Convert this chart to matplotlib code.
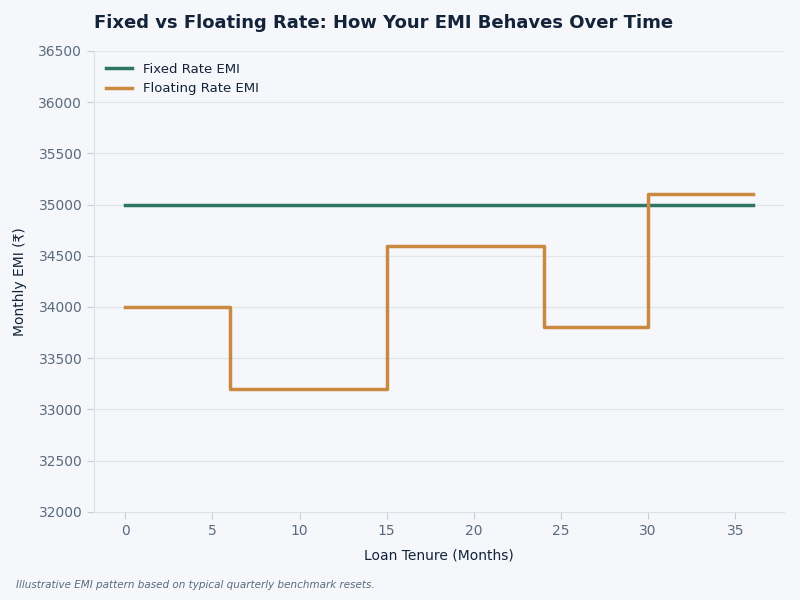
import numpy as np
import matplotlib.pyplot as plt

plt.rcParams['font.family'] = ['DejaVu Sans', 'Noto Sans']

# monthly EMI values
fixed_months = [0, 36]
fixed_emi = [35000, 35000]

float_months = [0, 6, 15, 24, 30, 36]
float_emi = [34000, 33200, 34600, 33800, 35100, 35100]

bg = '#f5f7fa'
fixed_color = '#2d7663'
float_color = '#c98940'
dark = '#13233a'
grey = '#5a6a7e'

fig = plt.figure(figsize=(8, 6), dpi=100, facecolor=bg)
ax = fig.add_axes([0.1175, 0.147, 0.8625, 0.768])
ax.set_facecolor(bg)

ax.plot(fixed_months, fixed_emi, color=fixed_color, lw=2.5, label='Fixed Rate EMI')
ax.step(float_months, float_emi, where='post', color=float_color, lw=2.5, label='Floating Rate EMI')

ax.set_xlim(-1.8, 37.8)
ax.set_ylim(32000, 36500)
ax.set_yticks(np.arange(32000, 36501, 500))
ax.set_xticks(np.arange(0, 36, 5))

ax.grid(axis='y', color='#e1e5ea', lw=0.8)
ax.set_axisbelow(True)
for s in ['top', 'right']:
    ax.spines[s].set_visible(False)
for s in ['left', 'bottom']:
    ax.spines[s].set_color('#dde2e8')
ax.tick_params(colors='#c8ced6', labelcolor=grey, labelsize=10, length=5)

ax.set_xlabel('Loan Tenure (Months)', color=dark, fontsize=10, labelpad=8)
ax.set_ylabel('Monthly EMI (₹)', color=dark, fontsize=10, labelpad=8)

fig.text(0.1175, 0.962, 'Fixed vs Floating Rate: How Your EMI Behaves Over Time',
         fontsize=13, fontweight='bold', color=dark, va='center')
fig.text(0.02, 0.025, 'Illustrative EMI pattern based on typical quarterly benchmark resets.',
         fontsize=7.5, style='italic', color=grey, va='center')

leg = ax.legend(loc='upper left', frameon=False, fontsize=9.5, labelcolor=dark)

fig.savefig('out.png', dpi=100, facecolor=bg)
